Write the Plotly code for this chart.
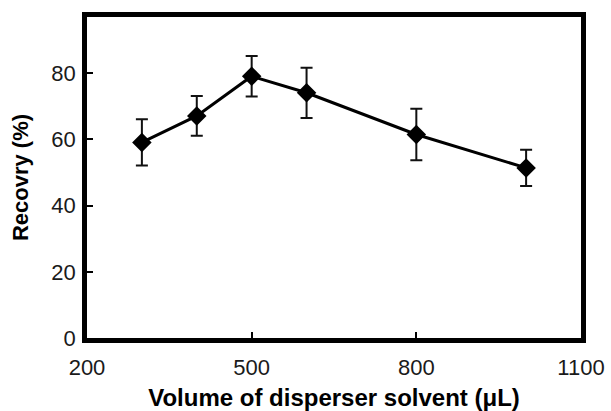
import plotly.graph_objects as go

volume = [300, 400, 500, 600, 800, 1000]
recovery = [59.1, 67.1, 79.1, 74.1, 61.5, 51.4]
error = [7.0, 6.0, 6.1, 7.6, 7.8, 5.5]

x_ticks = [200, 500, 800, 1100]
y_ticks = [0, 20, 40, 60, 80]

fig = go.Figure()
fig.add_trace(go.Scatter(
    x=volume, y=recovery, mode="lines+markers",
    line=dict(color="black", width=3),
    marker=dict(symbol="diamond", size=15, color="black"),
    error_y=dict(type="data", array=error, visible=True, color="#111", thickness=2, width=6),
    showlegend=False,
))

axis_font = dict(family="Liberation Sans, Arial, sans-serif", size=22, color="#1a1a1a")
fig.update_layout(
    width=611, height=411,
    margin=dict(l=87, r=30, t=17, b=73),
    paper_bgcolor="white", plot_bgcolor="white",
    xaxis=dict(
        range=[200, 1100], tickvals=x_ticks, ticktext=[str(v) for v in x_ticks],
        showline=True, linecolor="black", linewidth=4.5, mirror=True,
        ticks="inside", ticklen=6, tickwidth=2, tickcolor="black",
        showgrid=False, zeroline=False, tickfont=axis_font, ticklabelstandoff=6,
        automargin=False,
        title=dict(text="<b>Volume of disperser solvent (μL)</b>",
                   font=dict(family="Liberation Sans, Arial, sans-serif", size=24, color="black"),
                   standoff=12),
    ),
    yaxis=dict(
        range=[0, 97], tickvals=y_ticks,
        showline=True, linecolor="black", linewidth=4.5, mirror=True,
        ticks="inside", ticklen=6, tickwidth=2, tickcolor="black",
        showgrid=False, zeroline=False, tickfont=axis_font, ticklabelstandoff=2,
        automargin=False,
        title=dict(text="<b>Recovry (%)</b>",
                   font=dict(family="Liberation Sans, Arial, sans-serif", size=22, color="black"),
                   standoff=18),
    ),
)

fig.write_html("out.html")
